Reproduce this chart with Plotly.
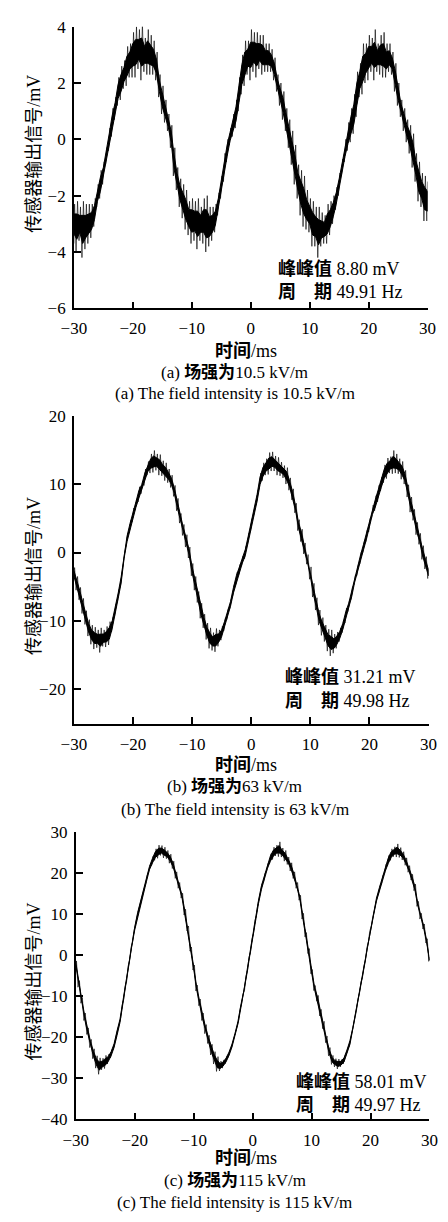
import plotly.graph_objects as go

W, H = 448, 1222

# sampling grid of the traces (ms)
T_START, T_STEP, N_SAMPLES = -30.0, 0.5, 121

# ---- panel (a): 10.5 kV/m, centre line and half-width of the noise band (mV)
A_CENTER = [
    -3.0, -3.1, -3.0, -3.2, -3.1, -3.0, -2.9, -2.6, -2.0, -1.6,
    -1.2, -0.6, 0.0, 0.6, 1.1, 1.7, 2.0, 2.3, 2.6, 2.8,
    3.0, 3.1, 3.2, 3.1, 3.0, 3.1, 3.0, 2.9, 2.6, 1.9,
    1.4, 1.0, 0.6, 0.1, -0.8, -1.4, -1.9, -2.2, -2.5, -2.8,
    -2.9, -2.9, -3.0, -3.0, -2.9, -3.0, -3.1, -3.0, -2.8, -2.3,
    -1.7, -1.0, -0.4, 0.1, 0.5, 0.9, 1.6, 2.3, 2.7, 2.9,
    3.0, 3.1, 3.0, 3.1, 3.0, 2.9, 2.9, 2.8, 2.5, 2.0,
    1.6, 1.2, 0.7, 0.2, -0.3, -0.9, -1.5, -1.9, -2.2, -2.5,
    -2.7, -3.0, -3.1, -3.3, -3.2, -3.2, -3.0, -2.8, -2.5, -2.1,
    -1.6, -1.0, -0.4, 0.1, 0.5, 0.9, 1.6, 2.1, 2.5, 2.7,
    2.9, 3.0, 3.0, 2.9, 3.0, 3.0, 2.8, 2.9, 2.7, 2.2,
    1.6, 1.1, 0.7, 0.3, 0.0, -0.4, -1.0, -1.5, -1.8, -2.1,
    -2.2,
]
A_SPREAD = [
    0.7, 0.9, 0.6, 1.0, 0.8, 0.7, 0.6, 0.5, 0.4, 0.5,
    0.4, 0.3, 0.4, 0.5, 0.4, 0.5, 0.6, 0.5, 0.7, 0.6,
    0.8, 0.9, 0.7, 1.0, 0.6, 0.8, 0.7, 0.6, 0.5, 0.4,
    0.5, 0.4, 0.3, 0.4, 0.5, 0.4, 0.5, 0.6, 0.7, 0.6,
    0.8, 0.7, 0.9, 0.6, 0.8, 1.0, 0.7, 0.6, 0.5, 0.4,
    0.4, 0.5, 0.4, 0.3, 0.4, 0.5, 0.6, 0.7, 0.8, 0.6,
    0.9, 0.7, 0.8, 0.6, 0.7, 0.5, 0.5, 0.4, 0.4, 0.3,
    0.4, 0.5, 0.4, 0.5, 0.6, 0.7, 0.6, 0.8, 0.9, 0.7,
    0.6, 0.8, 0.7, 0.9, 0.6, 0.5, 0.7, 0.6, 0.5, 0.4,
    0.4, 0.3, 0.4, 0.5, 0.6, 0.7, 0.8, 0.6, 0.9, 0.7,
    0.8, 0.6, 0.9, 0.5, 0.7, 0.8, 0.6, 0.5, 0.4, 0.5,
    0.4, 0.3, 0.4, 0.4, 0.5, 0.6, 0.5, 0.7, 0.6, 0.8,
    0.7,
]

# ---- panel (b): 63 kV/m
B_CENTER = [
    -3.0, -4.5, -6.0, -7.8, -9.5, -11.0, -12.0, -12.5, -12.6, -12.8,
    -12.5, -12.3, -11.8, -10.5, -8.5, -6.3, -4.0, -0.5, 2.0, 3.8,
    5.5, 7.0, 8.5, 9.5, 11.0, 12.3, 13.0, 13.3, 13.2, 12.8,
    12.3, 11.8, 11.2, 10.4, 9.0, 7.0, 5.0, 3.3, 1.7, 0.0,
    -2.5, -4.5, -6.5, -8.5, -10.0, -11.5, -12.5, -13.0, -12.8, -12.5,
    -11.8, -10.5, -9.0, -7.5, -5.5, -3.8, -2.5, -1.2, 0.0, 2.0,
    4.0, 6.0, 8.0, 10.5, 11.8, 12.5, 13.0, 13.3, 13.0, 12.6,
    12.2, 11.8, 11.2, 10.0, 8.5, 6.5, 4.0, 2.5, 0.6, -1.0,
    -3.0, -5.5, -7.5, -9.5, -10.8, -11.8, -12.8, -13.2, -13.3, -12.8,
    -12.0, -10.8, -9.2, -7.8, -6.0, -4.0, -2.6, -0.8, 0.8, 2.4,
    4.0, 6.0, 7.2, 8.6, 10.0, 11.5, 12.3, 12.8, 13.2, 13.0,
    12.6, 12.0, 11.0, 9.0, 7.0, 5.5, 3.5, 2.0, 0.0, -1.5,
    -3.0,
]
B_SPREAD = [
    0.8, 1.0, 0.9, 1.1, 1.0, 1.2, 1.4, 1.6, 1.3, 1.8,
    1.2, 1.5, 1.7, 1.1, 0.9, 0.8, 0.9, 0.7, 0.8, 0.9,
    1.0, 0.8, 1.1, 0.9, 1.2, 1.0, 1.4, 1.6, 1.2, 1.5,
    1.1, 1.3, 1.0, 0.9, 0.8, 0.9, 0.7, 0.8, 0.9, 0.8,
    0.9, 1.0, 0.8, 1.1, 1.0, 1.2, 1.5, 1.3, 1.7, 1.2,
    1.0, 0.9, 0.8, 0.7, 0.8, 0.9, 0.8, 0.7, 0.9, 0.8,
    0.9, 0.8, 1.0, 1.1, 1.3, 1.2, 1.6, 1.4, 1.1, 1.3,
    1.0, 0.9, 1.2, 0.9, 0.8, 0.7, 0.8, 0.9, 0.8, 0.7,
    0.9, 1.0, 0.9, 1.1, 1.3, 1.2, 1.6, 1.9, 1.4, 1.2,
    1.0, 0.9, 1.1, 0.8, 0.9, 0.7, 0.8, 0.9, 0.8, 0.9,
    1.0, 0.9, 1.1, 1.2, 1.0, 1.3, 1.5, 1.2, 1.7, 1.4,
    1.1, 1.3, 1.0, 0.9, 1.1, 0.8, 0.9, 0.8, 1.0, 0.9,
    0.8,
]

# ---- panel (c): 115 kV/m
C_CENTER = [
    -2.0, -7.0, -11.0, -15.0, -18.5, -21.5, -24.0, -26.0, -27.0, -26.5,
    -26.0, -25.3, -24.0, -22.0, -19.0, -16.0, -11.5, -7.0, -2.0, 2.5,
    6.5, 10.0, 13.0, 15.5, 18.5, 21.2, 23.0, 24.5, 25.2, 25.5,
    25.0, 24.5, 23.5, 22.0, 19.5, 17.0, 14.5, 10.5, 6.5, 1.5,
    -3.0, -8.0, -11.5, -15.0, -18.0, -20.5, -23.0, -25.0, -26.5, -27.0,
    -26.5, -25.5, -24.0, -22.0, -19.5, -16.5, -12.5, -9.0, -4.5, 0.0,
    4.5, 9.0, 13.0, 16.5, 19.0, 21.5, 23.5, 24.8, 25.5, 25.8,
    25.0, 24.2, 23.0, 21.5, 19.5, 17.0, 14.0, 9.5, 5.0, 1.0,
    -4.0, -8.0, -10.5, -14.0, -17.0, -20.5, -23.5, -25.5, -26.2, -26.5,
    -26.3, -25.5, -23.5, -21.3, -18.0, -14.0, -10.0, -6.0, -2.0, 2.5,
    6.5, 10.0, 13.5, 16.0, 18.5, 21.0, 23.0, 24.5, 25.2, 25.5,
    25.0, 24.2, 22.8, 21.0, 19.0, 16.5, 12.5, 9.5, 7.0, 3.5,
    -1.0,
]
C_SPREAD = [
    0.6, 0.8, 0.7, 0.9, 0.8, 1.0, 1.2, 1.5, 2.0, 1.4,
    1.6, 1.2, 1.0, 0.9, 1.1, 0.8, 0.7, 0.6, 0.7, 0.6,
    0.7, 0.8, 0.7, 0.9, 1.0, 0.8, 1.1, 1.4, 1.6, 1.2,
    1.3, 1.0, 1.1, 0.9, 0.8, 0.7, 0.6, 0.7, 0.6, 0.5,
    0.6, 0.7, 0.8, 0.9, 1.1, 1.0, 1.3, 1.5, 1.8, 1.2,
    1.0, 0.9, 0.8, 0.7, 0.8, 0.6, 0.7, 0.5, 0.6, 0.5,
    0.6, 0.7, 0.8, 0.9, 1.0, 0.9, 1.2, 1.5, 1.3, 1.8,
    1.1, 1.3, 0.9, 1.0, 0.8, 0.7, 0.6, 0.7, 0.5, 0.6,
    0.5, 0.6, 0.7, 0.8, 0.9, 0.8, 1.0, 1.1, 1.0, 1.2,
    0.9, 1.0, 0.8, 0.9, 0.7, 0.6, 0.7, 0.5, 0.6, 0.7,
    0.6, 0.8, 0.7, 0.9, 1.0, 1.1, 1.3, 1.4, 1.2, 1.6,
    1.2, 1.0, 0.9, 0.8, 0.7, 0.8, 0.6, 0.7, 0.6, 0.5,
    0.5,
]

PANEL_TAGS = ["a", "b", "c"]
FIELD_KV_M = ["10.5", "63", "115"]
PEAK_TO_PEAK_MV = ["8.80", "31.21", "58.01"]
FREQ_HZ = ["49.91", "49.98", "49.97"]
X_TICKS = [-30, -20, -10, 0, 10, 20, 30]
Y_TICKS = [
    [-6, -4, -2, 0, 2, 4],
    [-20, -10, 0, 10, 20],
    [-40, -30, -20, -10, 0, 10, 20, 30],
]

CENTERS = [A_CENTER, B_CENTER, C_CENTER]
SPREADS = [A_SPREAD, B_SPREAD, C_SPREAD]

# ---- layout geometry (pixels)
Y_RANGES = [(-6, 4), (-25, 20), (-40, 30)]
PLOT_BOX = [  # x0, x1, y_top, y_bottom
    (64, 436, 18, 304),
    (64, 437, 413, 726),
    (66, 438, 836, 1128),
]
YTITLE_POS = [(22, 147), (22, 576), (22, 988)]
INFO_POS = [(277, 264, 287), (284, 679, 703), (295, 1090, 1113)]
XTITLE_OFF = [43, 42, 39]
CAP_OFF = [65, 64, 62]
CAP2_OFF = [87, 87, 84]
CORE_FRAC = 0.5   # fraction of the band drawn as solid core

FONT = "Liberation Serif, Noto Sans CJK SC, serif"
FS = 17


def px(x):
    return x / W


def py(y):
    return 1 - y / H


times = [T_START + i * T_STEP for i in range(N_SAMPLES)]

fig = go.Figure()
annotations = []
for k in range(3):
    c, s = CENTERS[k], SPREADS[k]
    assert len(c) == N_SAMPLES and len(s) == N_SAMPLES
    sfx = "" if k == 0 else str(k + 1)
    # solid core of the noisy trace (closed polygon)
    core_x = times + times[::-1]
    core_y = [cv + CORE_FRAC * sv for cv, sv in zip(c, s)] + \
             [cv - CORE_FRAC * sv for cv, sv in zip(c, s)][::-1]
    fig.add_trace(go.Scatter(
        x=core_x, y=core_y, mode="lines", fill="toself",
        fillcolor="black", line=dict(color="black", width=1),
        xaxis="x" + sfx, yaxis="y" + sfx, showlegend=False, hoverinfo="skip",
    ))
    # spikes of the trace (zig-zag between band extremes)
    xs, ys = [], []
    for t, cv, sv in zip(times, c, s):
        xs += [max(t - 0.125, -30), min(t + 0.125, 30)]
        ys += [cv - sv, cv + sv]
    fig.add_trace(go.Scatter(
        x=xs, y=ys, mode="lines",
        line=dict(color="rgba(0,0,0,0.8)", width=0.8),
        xaxis="x" + sfx, yaxis="y" + sfx, showlegend=False, hoverinfo="skip",
    ))
    x0, x1, yt, yb = PLOT_BOX[k]
    axis_common = dict(
        showline=True, linecolor="black", linewidth=1.5,
        ticks="inside", ticklen=7, tickwidth=1.5, tickcolor="black",
        showgrid=False, zeroline=False,
        tickfont=dict(family=FONT, size=FS, color="black"),
    )
    fig.update_layout(**{
        "xaxis" + sfx: dict(
            domain=[px(x0), px(x1)], range=[-30, 30], anchor="y" + sfx,
            tickvals=X_TICKS, ticklabelstandoff=4, **axis_common),
        "yaxis" + sfx: dict(
            domain=[py(yb), py(yt)], range=list(Y_RANGES[k]), anchor="x" + sfx,
            tickvals=Y_TICKS[k], ticklabelstandoff=3, **axis_common),
    })
    tag = PANEL_TAGS[k]
    yx, yy = YTITLE_POS[k]
    annotations.append(dict(
        text="传感器输出信号/mV", x=px(yx), y=py(yy), xref="paper", yref="paper",
        textangle=-90, showarrow=False, xanchor="center", yanchor="middle",
        font=dict(family=FONT, size=FS + 1, color="black")))
    annotations.append(dict(
        text="<b>时间</b>/ms", x=px(245), y=py(yb + XTITLE_OFF[k]),
        xref="paper", yref="paper", showarrow=False,
        xanchor="center", yanchor="middle",
        font=dict(family=FONT, size=FS + 1, color="black")))
    annotations.append(dict(
        text=f"({tag}) <b>场强为</b>{FIELD_KV_M[k]} kV/m", x=px(233),
        y=py(yb + CAP_OFF[k]), xref="paper", yref="paper", showarrow=False,
        xanchor="center", yanchor="middle",
        font=dict(family=FONT, size=FS, color="black")))
    annotations.append(dict(
        text=f"({tag}) The field intensity is {FIELD_KV_M[k]} kV/m", x=px(233),
        y=py(yb + CAP2_OFF[k]), xref="paper", yref="paper", showarrow=False,
        xanchor="center", yanchor="middle",
        font=dict(family=FONT, size=FS, color="black")))
    ix, iy1, iy2 = INFO_POS[k]
    annotations.append(dict(
        text=f"<b>峰峰值</b> {PEAK_TO_PEAK_MV[k]} mV", x=px(ix), y=py(iy1),
        xref="paper", yref="paper", showarrow=False,
        xanchor="left", yanchor="middle",
        font=dict(family=FONT, size=FS + 1, color="black")))
    annotations.append(dict(
        text=f"<b>周　期</b> {FREQ_HZ[k]} Hz", x=px(ix), y=py(iy2),
        xref="paper", yref="paper", showarrow=False,
        xanchor="left", yanchor="middle",
        font=dict(family=FONT, size=FS + 1, color="black")))

fig.update_layout(
    width=W, height=H,
    margin=dict(l=0, r=0, t=0, b=0),
    paper_bgcolor="white", plot_bgcolor="white",
    font=dict(family=FONT, size=FS, color="black"),
    annotations=annotations,
    showlegend=False,
)

fig.write_html(
    "out.html",
    config={"displayModeBar": False},
    post_script="document.body.style.margin='0';document.body.style.overflow='hidden';",
)
